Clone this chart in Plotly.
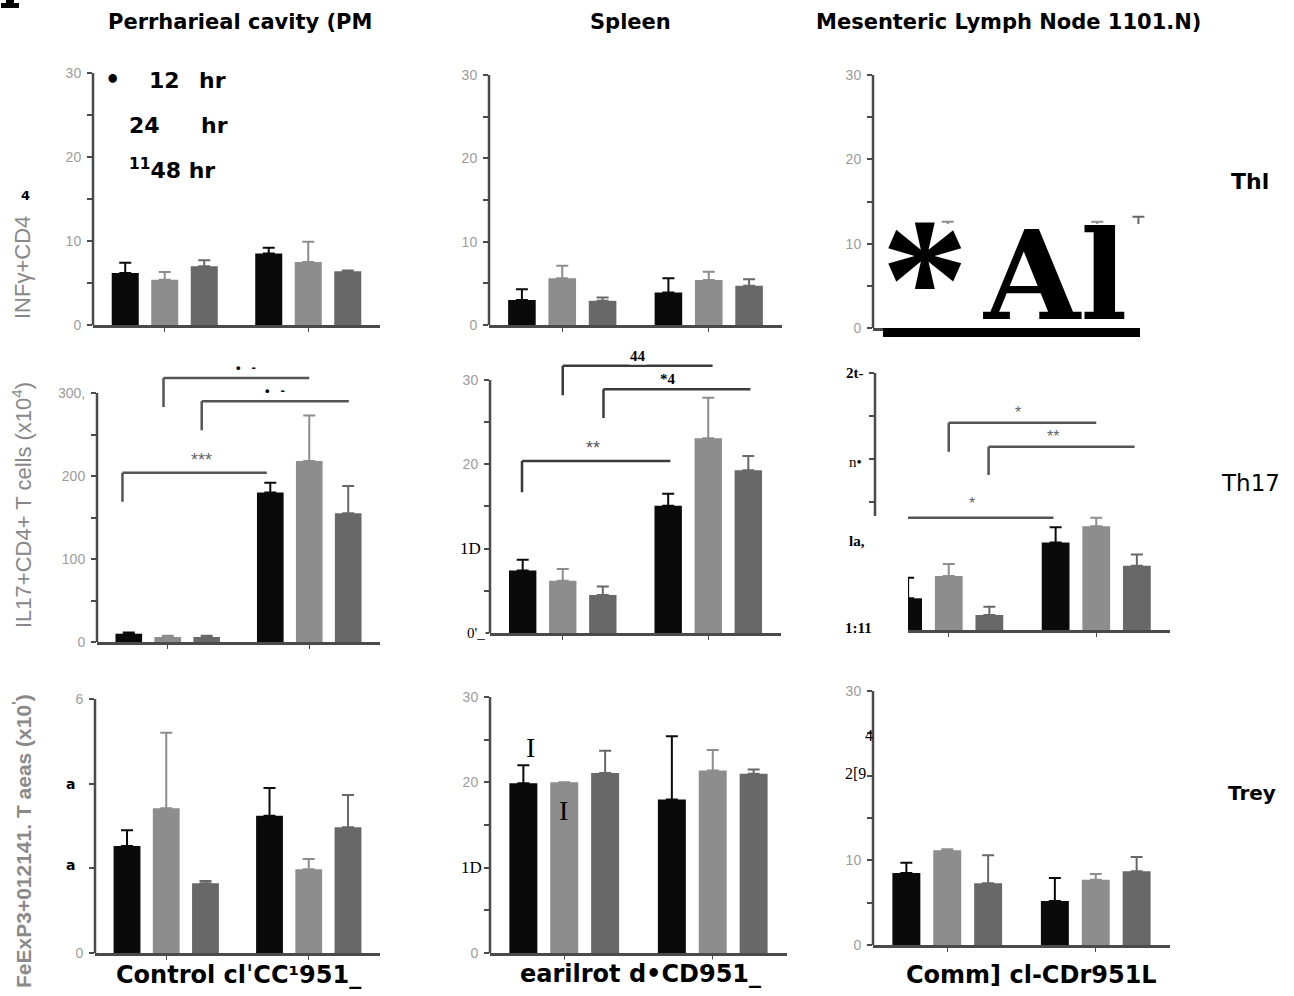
import plotly.graph_objects as go

W, H = 1294, 996

groups = ["Control", "CD95L"]
hours = ["12 hr", "24 hr", "48 hr"]
bar_colors = ["#0a0a0a", "#8d8d8d", "#686868"]

# rows = series (12 hr, 24 hr, 48 hr); columns = groups (Control, CD95L)
th1_pc = [[6.2, 8.5], [5.4, 7.5], [7.0, 6.4]]
th1_pc_err = [[1.2, 0.7], [0.9, 2.4], [0.7, 0.1]]
th1_spl = [[3.0, 3.9], [5.6, 5.4], [2.9, 4.7]]
th1_spl_err = [[1.3, 1.7], [1.5, 1.0], [0.4, 0.8]]
th1_mln = [[10.3, 10.2], [11.3, 11.2], [9.8, 11.8]]
th1_mln_err = [[1.3, 1.2], [1.3, 1.4], [1.2, 1.4]]

th17_pc = [[10, 180], [6, 218], [6, 155]]
th17_pc_err = [[1.5, 12], [1.5, 55], [1.5, 33]]
th17_spl = [[7.4, 15.1], [6.2, 23.1], [4.5, 19.3]]
th17_spl_err = [[1.3, 1.4], [1.4, 4.8], [1.0, 1.7]]
th17_mln = [[3.7, 10.2], [6.3, 12.1], [1.75, 7.5]]
th17_mln_err = [[2.4, 1.8], [1.4, 1.0], [0.95, 1.3]]

treg_pc = [[2.53, 3.24], [3.42, 1.98], [1.65, 2.97]]
treg_pc_err = [[0.37, 0.66], [1.78, 0.24], [0.05, 0.76]]
treg_spl = [[19.9, 18.0], [20.0, 21.4], [21.1, 21.0]]
treg_spl_err = [[2.1, 7.4], [0.0, 2.4], [2.6, 0.5]]
treg_mln = [[8.5, 5.2], [11.2, 7.7], [7.3, 8.7]]
treg_mln_err = [[1.2, 2.7], [0.1, 0.7], [3.3, 1.7]]

# significance brackets: x_start, x_end, y_line, y_drop, label, label_x, label_y
th17_pc_brackets = [
    (-0.32, 0.70, 204, 169, "***", 0.24, 219),
    (-0.03, 1.00, 318, 283, "•   -", 0.55, 331),
    (0.24, 1.28, 290, 255, "•   -", 0.76, 303),
]
th17_spl_brackets = [
    (-0.28, 0.74, 20.4, 16.7, "**", 0.21, 21.9),
    (0.00, 1.03, 31.7, 28.2, "44", 0.52, 32.9),
    (0.28, 1.29, 28.9, 25.5, "*4", 0.72, 30.1),
]
th17_mln_brackets = [
    (0.00, 1.00, 24.2, 20.8, "*", 0.47, 25.4),
    (0.27, 1.26, 21.4, 18.1, "**", 0.71, 22.6),
    (-0.35, 0.71, 13.1, 10.0, "*", 0.16, 14.8),
]

# ---------------- layout geometry (pixels) ----------------
panels = [
    dict(vals=th1_pc, errs=th1_pc_err, x0=93, x1=380, y0=325, ytop=73, ymax=30, rmax=30,
         tv=[0, 5, 10, 15, 20, 25, 30], tt=["0", "", "10", "", "20", "", "30"]),
    dict(vals=th1_spl, errs=th1_spl_err, x0=489, x1=782, y0=325, ytop=75, ymax=30, rmax=30,
         tv=[0, 5, 10, 15, 20, 25, 30], tt=["0", "", "10", "", "20", "", "30"]),
    dict(vals=th1_mln, errs=th1_mln_err, x0=873, x1=1172, y0=328, ytop=75, ymax=30, rmax=30,
         tv=[0, 5, 10, 15, 20, 25, 30], tt=["0", "", "10", "", "20", "", "30"]),
    dict(vals=th17_pc, errs=th17_pc_err, x0=97, x1=380, y0=642, ytop=393, ymax=300, rmax=345,
         tv=[0, 50, 100, 150, 200, 250, 300], tt=["0", "", "100", "", "200", "", "300,"]),
    dict(vals=th17_spl, errs=th17_spl_err, x0=490, x1=781, y0=633, ytop=380, ymax=30, rmax=34,
         tv=[0, 5, 10, 15, 20, 25, 30], tt=["", "", "", "", "20", "", "30"]),
    dict(vals=th17_mln, errs=th17_mln_err, x0=875, x1=1170, y0=630, ytop=373, ymax=30, rmax=30,
         tv=[0, 5, 10, 15, 20, 25, 30], tt=["", "", "", "", "", "", ""]),
    dict(vals=treg_pc, errs=treg_pc_err, x0=95, x1=380, y0=953, ytop=699, ymax=6, rmax=6,
         tv=[0, 2, 4, 6], tt=["0", "", "", "6"]),
    dict(vals=treg_spl, errs=treg_spl_err, x0=490, x1=787, y0=953, ytop=697, ymax=30, rmax=30,
         tv=[0, 5, 10, 15, 20, 25, 30], tt=["0", "", "", "", "20", "", "30"]),
    dict(vals=treg_mln, errs=treg_mln_err, x0=873, x1=1170, y0=945, ytop=691, ymax=30, rmax=30,
         tv=[0, 5, 10, 15, 20, 25, 30], tt=["0", "", "10", "", "", "", "30"]),
]

AXC = "#4a4a4a"
TICKFONT = dict(family="Liberation Sans", size=14, color="#9c9c9c")


def px(x):
    return x / W


def py(y):
    return 1 - y / H


def sfx(i):
    return "" if i == 1 else str(i)


fig = go.Figure()
shapes = []
annotations = []

for i, p in enumerate(panels, start=1):
    xa, ya = "x" + sfx(i), "y" + sfx(i)
    scale = (p["y0"] - p["ytop"]) / p["ymax"]
    top_px = p["y0"] - p["rmax"] * scale
    for k in range(3):
        fig.add_trace(go.Bar(
            x=groups, y=p["vals"][k], name=hours[k], xaxis=xa, yaxis=ya,
            marker=dict(color=bar_colors[k], line=dict(width=0)),
            error_y=dict(type="data", symmetric=False, array=p["errs"][k],
                         arrayminus=[0, 0], color=bar_colors[k], thickness=2, width=6),
            showlegend=False,
        ))
    fig.layout["xaxis" + sfx(i)] = dict(
        domain=[px(p["x0"]), px(p["x1"])], anchor=ya, showgrid=False, zeroline=False,
        showline=True, linecolor=AXC, linewidth=2.5, ticks="outside", ticklen=4,
        tickcolor=AXC, tickwidth=1, showticklabels=False, fixedrange=True,
        automargin=False,
    )
    fig.layout["yaxis" + sfx(i)] = dict(
        domain=[py(p["y0"]), py(top_px)], anchor=xa, range=[0, p["rmax"]],
        showgrid=False, zeroline=False, showline=False, ticks="outside", ticklen=5,
        tickcolor=AXC, tickwidth=1.5, tickvals=p["tv"], ticktext=p["tt"],
        tickfont=TICKFONT, ticklabelstandoff=3, fixedrange=True, automargin=False,
    )
    # y-axis line up to the axis maximum
    shapes.append(dict(type="line", xref=xa + " domain", yref=ya, x0=0, x1=0,
                       y0=0, y1=p["ymax"], line=dict(color=AXC, width=2.5)))


def add_brackets(idx, brs, line_col, lab_style):
    xa, ya = "x" + sfx(idx), "y" + sfx(idx)
    for (xs, xe, yl, yd, lab, lx, ly) in brs:
        shapes.append(dict(type="line", xref=xa, yref=ya, x0=xs, x1=xs,
                           y0=yd, y1=yl, line=dict(color=line_col, width=2.5)))
        shapes.append(dict(type="line", xref=xa, yref=ya, x0=xs, x1=xe,
                           y0=yl, y1=yl, line=dict(color=line_col, width=2.5)))
        st = lab_style(lab)
        annotations.append(dict(xref=xa, yref=ya, x=lx, y=ly, text=lab,
                                showarrow=False, xanchor="center", yanchor="middle", **st))


def pc_style(lab):
    if lab == "***":
        return dict(font=dict(family="Liberation Sans", size=18, color="#666666"))
    return dict(font=dict(family="Liberation Sans", size=13, color="black", weight="bold"),
                bgcolor="white", borderpad=0)


def spl_style(lab):
    if lab == "**":
        return dict(font=dict(family="Liberation Sans", size=18, color="#555555"))
    return dict(font=dict(family="Liberation Serif", size=15, color="black", weight="bold"),
                bgcolor="white", borderpad=0)


def mln_style(lab):
    return dict(font=dict(family="Liberation Sans", size=16, color="#666666"))


add_brackets(4, th17_pc_brackets, "#555555", pc_style)
add_brackets(5, th17_spl_brackets, "#3a3a3a", spl_style)
add_brackets(6, th17_mln_brackets, "#555555", mln_style)

# ---------------- overlays (artifacts of the reference image) ----------------
def rect(x0, x1, y0, y1, color):
    shapes.append(dict(type="rect", xref="paper", yref="paper", x0=px(x0), x1=px(x1),
                       y0=py(y1), y1=py(y0), fillcolor=color, line=dict(width=0),
                       layer="above"))


rect(883, 1174, 224, 336, "white")     # box over top-right panel
rect(883, 1140, 328, 337, "black")     # underline
rect(828, 908, 516, 646, "white")      # box over MLN Th17 panel
rect(1, 19, 3, 8, "black")             # fragment of a letter at the top-left corner
rect(6, 14, 0, 4, "black")


def txt(x, y, text, size, color="black", family="DejaVu Sans", xanchor="center",
        yanchor="middle", angle=0, bg=None, bold=False):
    d = dict(xref="paper", yref="paper", x=px(x), y=py(y), text=text, showarrow=False,
             xanchor=xanchor, yanchor=yanchor, textangle=angle,
             font=dict(family=family, size=size, color=color,
                       weight="bold" if bold else "normal"))
    if bg:
        d["bgcolor"] = bg
        d["borderpad"] = 0
    annotations.append(d)


# column titles
txt(240, 22, "Perrharieal cavity (PM", 21, bold=True, bg="white")
txt(630, 22, "Spleen", 21, bold=True, bg="white")
txt(1008, 22, "Mesenteric Lymph Node 1101.N)", 21, bold=True, bg="white")

# legend-like text
txt(113, 80, "•", 24, bold=True)
txt(147, 80, "12", 22, bold=True, xanchor="left")
txt(197, 80, "hr", 22, bold=True, xanchor="left")
txt(127, 125, "24", 22, bold=True, xanchor="left")
txt(199, 125, "hr", 22, bold=True, xanchor="left")
txt(127, 169, "<sup>11</sup>48 hr", 22, bold=True, xanchor="left")

# row labels
txt(1250, 181, "Thl", 22, bold=True, bg="white")
txt(1250, 483, "Th17", 23, bg="white")
txt(1252, 793, "Trey", 20, bold=True, bg="white")

# y-axis titles
txt(22, 268, "INFγ+CD4", 22, color="#888888", family="Liberation Sans", angle=-90)
txt(25, 195, "4", 13, bold=True)
txt(22, 505, "IL17+CD4+ T cells (x10<sup>4</sup>)", 22, color="#888888",
    family="Liberation Sans", angle=-90)
txt(22, 841, "FeExP3+012141. T aeas (x10<sup>'</sup>)", 21, color="#8a8a8a",
    family="Liberation Sans", angle=-90, bg="white", bold=True)

# odd tick labels
txt(70, 784, "a", 14, bold=True, bg="white")
txt(70, 865, "a", 14, bold=True, bg="white")
txt(470, 548, "1D", 17, family="Liberation Serif", bg="white")
txt(476, 633, "0'_", 15, family="Liberation Serif", bg="white")
txt(471, 867, "1D", 17, family="Liberation Serif", bg="white")
txt(855, 373, "2t-", 15, family="Liberation Serif", bg="white", bold=True)
txt(855, 462, "n•", 15, family="Liberation Serif", bg="white")
txt(857, 541, "la,", 15, family="Liberation Serif", bold=True)
txt(858, 628, "1:11", 15, family="Liberation Serif", bold=True)
txt(869, 735, "4", 16, family="Liberation Serif")
txt(855, 773, "2[9", 16, family="Liberation Serif", bg="white")

# error-bar-like glyphs on the spleen Treg panel
txt(530, 747, "I", 28, family="Liberation Serif")
txt(563, 810, "I", 28, family="Liberation Serif")

# big overlay text
txt(925, 280, "*", 175, family="Liberation Serif", bold=True)
txt(1055, 275, "Al", 124, family="DejaVu Serif", bold=True)

# bottom group labels
txt(238, 975, "Control clˈCC¹951_", 24, bold=True, bg="white")
txt(640, 974, "earilrot d•CD951_", 24, bold=True, bg="white")
txt(1031, 975, "Comm] cl-CDr951L", 24, bold=True, bg="white")

fig.update_layout(
    width=W, height=H, margin=dict(l=0, r=0, t=0, b=0, autoexpand=False),
    paper_bgcolor="white", plot_bgcolor="white",
    barmode="group", bargap=0.174, bargroupgap=0.316,
    shapes=shapes, annotations=annotations, showlegend=False,
)

fig.write_html("out.html", config={"displayModeBar": False},
               post_script="document.body.style.margin='0px';document.body.style.padding='0px';")
